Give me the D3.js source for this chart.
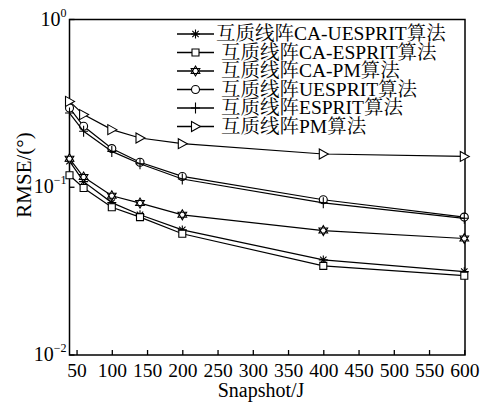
<!DOCTYPE html>
<html><head><meta charset="utf-8">
<script src="https://cdn.jsdelivr.net/npm/d3@7"></script>
<style>
body{margin:0;background:#fff;}
text{font-family:"Liberation Serif","Times New Roman","Noto Serif CJK SC","Noto Sans CJK SC",serif;fill:#000;}
</style></head>
<body><svg id="c" width="485" height="406"></svg>
<script>
const snapshots = [40, 60, 100, 140, 200, 400, 600];
const caUesprit = [0.143, 0.108, 0.081, 0.0685, 0.0557, 0.0369, 0.0314];
const caEsprit  = [0.118, 0.099, 0.076, 0.0664, 0.0528, 0.034, 0.0297];
const caPm      = [0.148, 0.115, 0.089, 0.0805, 0.0685, 0.0552, 0.0495];
const uesprit   = [0.297, 0.231, 0.170, 0.141, 0.116, 0.0842, 0.0664];
const esprit    = [0.277, 0.2155, 0.1636, 0.138, 0.112, 0.0808, 0.0653];
const pm        = [0.325, 0.271, 0.2205, 0.1966, 0.1819, 0.1578, 0.1527];
const seriesNames = ["互质线阵CA-UESPRIT算法","互质线阵CA-ESPRIT算法","互质线阵CA-PM算法","互质线阵UESPRIT算法","互质线阵ESPRIT算法","互质线阵PM算法"];
const seriesMarkers = ["asterisk","square","hexagram","circle","plus","triangle"];
const xTicks = [50,100,150,200,250,300,350,400,450,500,550,600];
const yTickExps = [0,-1,-2];
const xLabel = "Snapshot/J";
const yLabel = "RMSE/(°)";

const seriesValues = [caUesprit, caEsprit, caPm, uesprit, esprit, pm];

const L = 69.5, R = 465, T = 19.5, B = 355;
const svg = d3.select("#c");
const x = d3.scaleLinear().domain([40, 601]).range([L, R]);
const y = d3.scaleLog().domain([0.01, 1]).range([B, T]);

function markerPath(type){
  const p = d3.path();
  if(type==="asterisk"){
    const s=4.5, d=3.2;
    p.moveTo(-s,0);p.lineTo(s,0);p.moveTo(0,-s);p.lineTo(0,s);
    p.moveTo(-d,-d);p.lineTo(d,d);p.moveTo(-d,d);p.lineTo(d,-d);
  } else if(type==="square"){
    p.rect(-3.5,-3.5,7,7);
  } else if(type==="circle"){
    p.arc(0,0,4,0,2*Math.PI);
  } else if(type==="plus"){
    p.moveTo(-4.5,0);p.lineTo(4.5,0);p.moveTo(0,-5.5);p.lineTo(0,5.5);
  } else if(type==="triangle"){
    p.moveTo(-4,-5);p.lineTo(5,0);p.lineTo(-4,5);p.closePath();
  } else if(type==="hexagram"){
    const r=5;
    for(let k=0;k<2;k++){
      for(let i=0;i<3;i++){
        const a=-Math.PI/2 + k*Math.PI + i*2*Math.PI/3;
        const px=r*Math.cos(a), py=r*Math.sin(a);
        if(i===0)p.moveTo(px,py);else p.lineTo(px,py);
      }
      p.closePath();
    }
  }
  return p.toString();
}
function markerFill(type){
  return (type==="asterisk"||type==="plus")?"none":"#fff";
}

const g = svg.append("g");
g.append("rect").attr("x",L).attr("y",T).attr("width",R-L).attr("height",B-T)
  .attr("fill","none").attr("stroke","#000").attr("stroke-width",1.5);

const xAxis = d3.axisBottom(x).tickValues(xTicks).tickSizeInner(-5).tickSizeOuter(0).tickPadding(6);
const xg = g.append("g").attr("transform",`translate(0,${B})`).call(xAxis);
xg.select(".domain").remove();
xg.selectAll(".tick line").attr("stroke","#000").attr("stroke-width",1.3);
xg.selectAll(".tick text").attr("font-size",19.5).attr("fill","#000")
  .attr("font-family",'"Liberation Serif","Times New Roman",serif').attr("dy","0.8em");

const yg = g.append("g");
yTickExps.forEach(e=>{
  const v = Math.pow(10,e), yy = y(v);
  yg.append("line").attr("x1",L).attr("x2",L+5).attr("y1",yy).attr("y2",yy).attr("stroke","#000").attr("stroke-width",1.3);
  const t = yg.append("text").attr("x",L-3).attr("y",yy+6).attr("text-anchor","end").attr("font-size",20);
  t.append("tspan").text("10");
  t.append("tspan").attr("dy",-9).attr("font-size",12).text(e===0?"0":"\u2212"+(-e));
});

svg.append("text").attr("x",261).attr("y",397).attr("text-anchor","middle").attr("font-size",20).text(xLabel);
svg.append("text").attr("transform","translate(31,175) rotate(-90)").attr("text-anchor","middle").attr("font-size",21).text(yLabel);

const line = d3.line().x((d,i)=>x(snapshots[i])).y(d=>y(d));
seriesValues.forEach((vals,si)=>{
  const sg = g.append("g");
  sg.append("path").attr("d",line(vals)).attr("fill","none").attr("stroke","#000").attr("stroke-width",1.2);
  const mk = seriesMarkers[si];
  sg.selectAll("path.m").data(vals).join("path").attr("class","m")
    .attr("transform",(d,i)=>`translate(${x(snapshots[i])},${y(d)})`)
    .attr("d",markerPath(mk)).attr("fill",markerFill(mk)).attr("stroke","#000").attr("stroke-width",1.1);
});

const lg = svg.append("g");
seriesNames.forEach((name,i)=>{
  const yy = 34 + i*18.5;
  lg.append("line").attr("x1",177).attr("x2",214).attr("y1",yy).attr("y2",yy).attr("stroke","#000").attr("stroke-width",1.4);
  const mk = seriesMarkers[i];
  lg.append("path").attr("transform",`translate(195.5,${yy})`).attr("d",markerPath(mk))
    .attr("fill",markerFill(mk)).attr("stroke","#000").attr("stroke-width",1.1);
  lg.append("text").attr("x",i===0?216:221).attr("y",yy+6).attr("font-size",19.5).text(name);
});
</script></body></html>
